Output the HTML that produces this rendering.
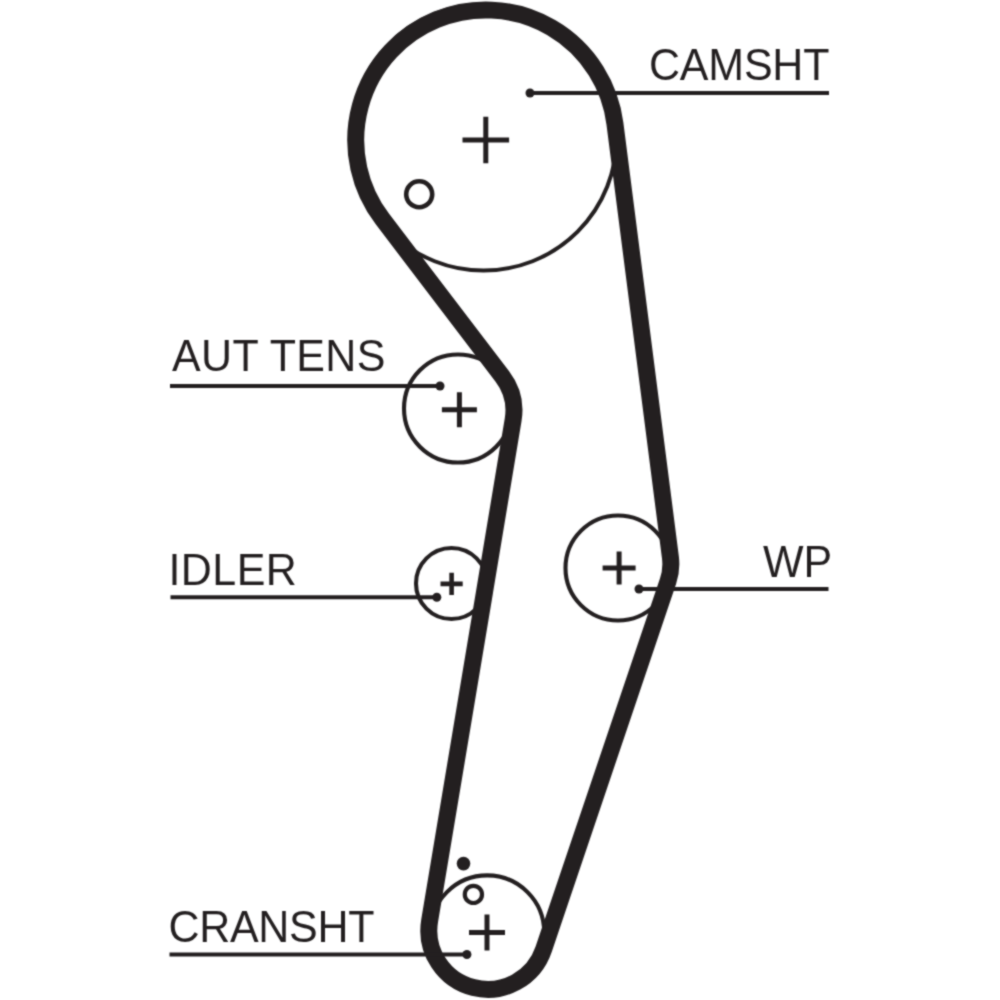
<!DOCTYPE html>
<html><head><meta charset="utf-8"><style>
html,body{margin:0;padding:0;background:#fff;}
svg{display:block;}
text{font-family:"Liberation Sans",sans-serif;font-size:43px;fill:#231f20;}
</style></head><body>
<svg width="1000" height="1000" viewBox="0 0 1000 1000">
<defs><filter id="soft" filterUnits="userSpaceOnUse" x="-50" y="-50" width="1100" height="1100" color-interpolation-filters="sRGB"><feConvolveMatrix order="3" kernelMatrix="1 2 1 2 8 2 1 2 1" preserveAlpha="true"/></filter></defs>
<g filter="url(#soft)">
<rect x="-50" y="-50" width="1100" height="1100" fill="#fff"/>
<circle cx="483.6" cy="137.6" r="133" stroke="#231f20" stroke-width="4" fill="none"/>
<circle cx="458" cy="408.5" r="54" stroke="#231f20" stroke-width="4.1" fill="none"/>
<circle cx="451.5" cy="583.5" r="35.5" stroke="#231f20" stroke-width="4.1" fill="none"/>
<circle cx="618" cy="568" r="52.5" stroke="#231f20" stroke-width="4.1" fill="none"/>
<circle cx="487.2" cy="932.4" r="57" stroke="#231f20" stroke-width="4.1" fill="none"/>
<circle cx="419.2" cy="194.3" r="13" stroke="#231f20" stroke-width="4.6" fill="none"/>
<circle cx="473.4" cy="894.4" r="8.6" stroke="#231f20" stroke-width="4.2" fill="none"/>
<circle cx="463.5" cy="863.6" r="6.8" fill="#231f20"/>
<path d="M462.5,140H509.1M485.8,116.7V163.3" stroke="#231f20" stroke-width="5" fill="none"/>
<path d="M441.9,409.7H476.9M459.4,392.2V427.2" stroke="#231f20" stroke-width="5" fill="none"/>
<path d="M440.5,583.9H462.70000000000005M451.6,572.8V595.0" stroke="#231f20" stroke-width="4.6" fill="none"/>
<path d="M602.6,568H635.6M619.1,551.5V584.5" stroke="#231f20" stroke-width="5" fill="none"/>
<path d="M469,932.6H505M487,914.6V950.6" stroke="#231f20" stroke-width="5" fill="none"/>
<path d="M382.34,218.96 A130.12,130.12 0 1 1 614.92,123.60 L670.41,557.34 A53.66,53.66 0 0 1 668.01,581.33 L543.66,949.26 A58.95,58.95 0 0 1 429.66,920.68 L484.53,591.93 A35.99,35.99 0 0 0 484.53,591.91 L513.13,419.94 A56.41,56.41 0 0 0 502.35,376.51 Z" stroke="#231f20" stroke-width="17" fill="none"/>
<line x1="529" y1="93" x2="829" y2="93" stroke="#231f20" stroke-width="4"/><circle cx="530" cy="93" r="4.5" fill="#231f20"/>
<line x1="170" y1="386" x2="441" y2="386" stroke="#231f20" stroke-width="4"/><circle cx="440" cy="386" r="4.5" fill="#231f20"/>
<line x1="170.5" y1="597.3" x2="437" y2="597.3" stroke="#231f20" stroke-width="4"/><circle cx="436.8" cy="597.3" r="4.5" fill="#231f20"/>
<line x1="639" y1="589" x2="828.5" y2="589" stroke="#231f20" stroke-width="4"/><circle cx="639" cy="589" r="4.5" fill="#231f20"/>
<line x1="169.5" y1="954.5" x2="467" y2="954.5" stroke="#231f20" stroke-width="4"/><circle cx="466.9" cy="954.5" r="4.5" fill="#231f20"/>
<text transform="translate(649,80) scale(1,1.035)" x="0" y="0" textLength="180.5" lengthAdjust="spacing">CAMSHT</text>
<text transform="translate(172,370.8) scale(1,1.035)" x="0" y="0" textLength="213.4" lengthAdjust="spacing">AUT TENS</text>
<text transform="translate(168.5,585) scale(1,1.035)" x="0" y="0" textLength="128.3" lengthAdjust="spacing">IDLER</text>
<text transform="translate(763,577) scale(1,1.035)" x="0" y="0">WP</text>
<text transform="translate(168.5,941.7) scale(1,1.035)" x="0" y="0" textLength="206" lengthAdjust="spacing">CRANSHT</text>
</g>
</svg>
</body></html>
